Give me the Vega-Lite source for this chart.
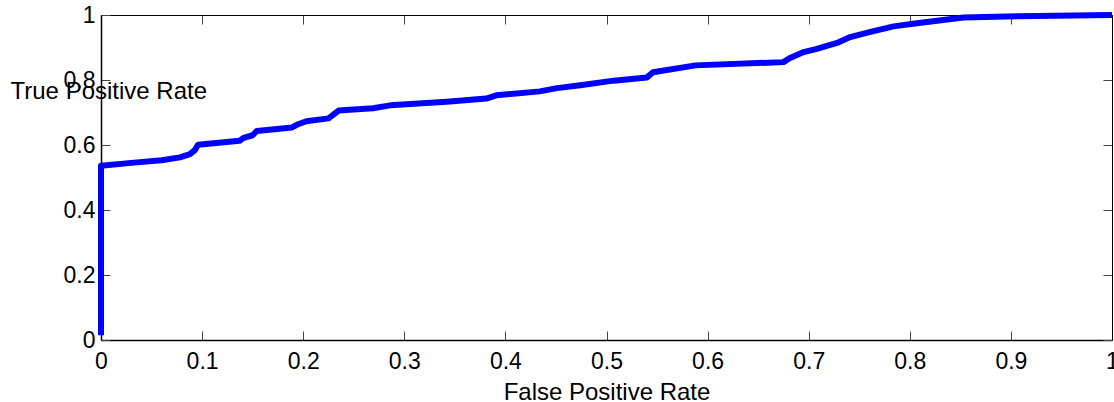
{
  "$schema": "https://vega.github.io/schema/vega-lite/v6.json",
  "autosize": {"type": "none"},
  "width": 1011,
  "height": 325,
  "padding": {"left": 101, "top": 15, "right": 2, "bottom": 62},
  "background": "white",
  "config": {
    "view": {"stroke": null},
    "font": "Liberation Sans",
    "axis": {"grid": false, "labelFont": "Liberation Sans", "titleFont": "Liberation Sans", "labelColor": "black", "titleColor": "black", "titleFontWeight": "normal", "domainColor": "black", "tickColor": "#444444", "tickWidth": 1, "labelFontSize": 23, "titleFontSize": 24}
  },
  "data": {"values": [
    {"fpr": 0, "tpr": 0.015},
    {"fpr": 0, "tpr": 0.536},
    {"fpr": 0.03, "tpr": 0.545},
    {"fpr": 0.06, "tpr": 0.553},
    {"fpr": 0.078, "tpr": 0.562},
    {"fpr": 0.088, "tpr": 0.572},
    {"fpr": 0.093, "tpr": 0.585},
    {"fpr": 0.096, "tpr": 0.601},
    {"fpr": 0.137, "tpr": 0.613},
    {"fpr": 0.141, "tpr": 0.622},
    {"fpr": 0.15, "tpr": 0.63},
    {"fpr": 0.154, "tpr": 0.643},
    {"fpr": 0.189, "tpr": 0.654},
    {"fpr": 0.195, "tpr": 0.664},
    {"fpr": 0.203, "tpr": 0.673},
    {"fpr": 0.225, "tpr": 0.682},
    {"fpr": 0.235, "tpr": 0.706},
    {"fpr": 0.269, "tpr": 0.713},
    {"fpr": 0.286, "tpr": 0.722},
    {"fpr": 0.342, "tpr": 0.733},
    {"fpr": 0.381, "tpr": 0.743},
    {"fpr": 0.391, "tpr": 0.753},
    {"fpr": 0.434, "tpr": 0.765},
    {"fpr": 0.451, "tpr": 0.775},
    {"fpr": 0.474, "tpr": 0.784},
    {"fpr": 0.507, "tpr": 0.798},
    {"fpr": 0.54, "tpr": 0.808},
    {"fpr": 0.546, "tpr": 0.824},
    {"fpr": 0.588, "tpr": 0.845},
    {"fpr": 0.675, "tpr": 0.855},
    {"fpr": 0.681, "tpr": 0.867},
    {"fpr": 0.695, "tpr": 0.886},
    {"fpr": 0.708, "tpr": 0.896},
    {"fpr": 0.728, "tpr": 0.914},
    {"fpr": 0.741, "tpr": 0.932},
    {"fpr": 0.761, "tpr": 0.948},
    {"fpr": 0.784, "tpr": 0.965},
    {"fpr": 0.803, "tpr": 0.973},
    {"fpr": 0.853, "tpr": 0.992},
    {"fpr": 0.906, "tpr": 0.996},
    {"fpr": 1.0, "tpr": 1.0}
  ]},
  "resolve": {"axis": {"x": "independent", "y": "independent"}},
  "layer": [
    {
      "mark": {"type": "line", "color": "#0000ff", "strokeWidth": 6, "strokeCap": "butt", "strokeJoin": "round"},
      "encoding": {
        "x": {"field": "fpr", "type": "quantitative", "scale": {"domain": [0, 1], "nice": false, "zero": false},
          "axis": {"orient": "bottom", "values": [0, 0.1, 0.2, 0.3, 0.4, 0.5, 0.6, 0.7, 0.8, 0.9, 1], "format": "~g", "tickSize": -9, "labelPadding": 19, "labelFont": "Liberation Sans", "labelFontSize": 23, "labelFlush": false, "labelOverlap": false, "domainWidth": 1.5, "title": "False Positive Rate", "titleFontSize": 24, "titleAnchor": "middle", "titleBaseline": "alphabetic", "titleY": 59, "titlePadding": 0}},
        "y": {"field": "tpr", "type": "quantitative", "scale": {"domain": [0, 1], "nice": false, "zero": false},
          "axis": {"orient": "left", "values": [0, 0.2, 0.4, 0.6, 0.8, 1], "format": "~g", "tickSize": -9, "labelPadding": 15, "labelFont": "Liberation Sans", "labelFontSize": 23, "labelFlush": false, "labelOverlap": false, "domainWidth": 1.5, "title": "True Positive Rate", "titleFontSize": 24, "titleAngle": 0, "titleAlign": "left", "titleBaseline": "alphabetic", "titleX": -91, "titleY": 83}}
      }
    },
    {
      "mark": {"type": "line", "opacity": 0},
      "encoding": {
        "x": {"field": "fpr", "type": "quantitative", "scale": {"domain": [0, 1], "nice": false, "zero": false},
          "axis": {"orient": "top", "values": [0, 0.1, 0.2, 0.3, 0.4, 0.5, 0.6, 0.7, 0.8, 0.9, 1], "labels": false, "tickSize": -9, "domainWidth": 1, "title": null}},
        "y": {"field": "tpr", "type": "quantitative", "scale": {"domain": [0, 1], "nice": false, "zero": false},
          "axis": {"orient": "right", "values": [0, 0.2, 0.4, 0.6, 0.8, 1], "labels": false, "tickSize": -9, "domainWidth": 1, "title": null}}
      }
    }
  ]
}
